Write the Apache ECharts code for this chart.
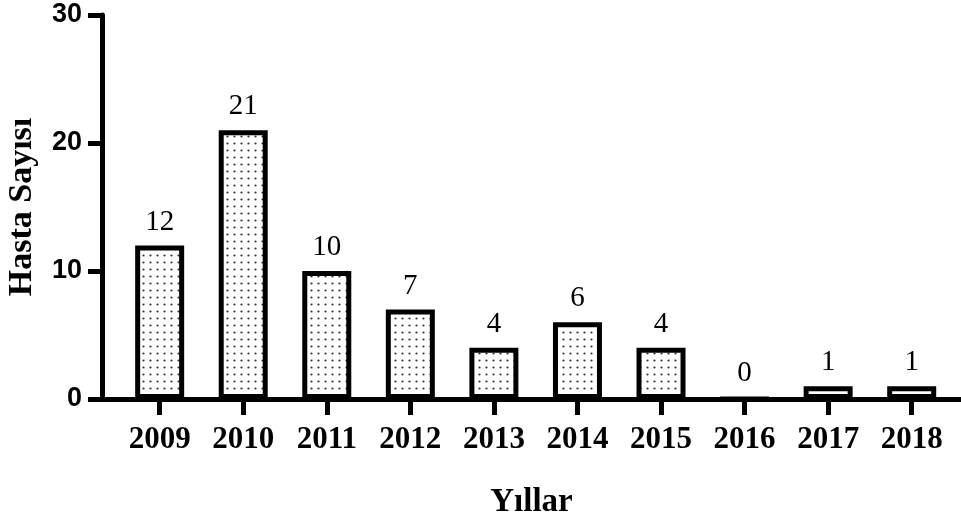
<!DOCTYPE html>
<html>
<head>
<meta charset="utf-8">
<script src="https://cdn.jsdelivr.net/npm/echarts@6/dist/echarts.min.js"></script>
<style>
html,body{margin:0;padding:0;background:#fff;}
#main{width:961px;height:517px;}
</style>
</head>
<body>
<div id="main"></div>
<script>
// Data
var years = [2009, 2010, 2011, 2012, 2013, 2014, 2015, 2016, 2017, 2018];
var patients = [12, 21, 10, 7, 4, 6, 4, 0, 1, 1];
var yTicks = [0, 10, 20, 30];
var xTitle = 'Yıllar';
var yTitle = 'Hasta Sayısı';

// dotted fill pattern
var pc = document.createElement('canvas');
pc.width = 7; pc.height = 7;
var pctx = pc.getContext('2d');
pctx.fillStyle = '#ffffff';
pctx.fillRect(0, 0, 7, 7);
pctx.fillStyle = '#333333';
pctx.beginPath();
pctx.arc(3.5, 3.5, 1.1, 0, Math.PI * 2);
pctx.fill();

var serif = '"Liberation Serif", "Times New Roman", serif';
var sans = '"Liberation Sans", Arial, sans-serif';

var chart = echarts.init(document.getElementById('main'));
chart.setOption({
  animation: false,
  backgroundColor: '#ffffff',
  grid: { left: 102, right: 0, top: 15, bottom: 118, containLabel: false, outerBoundsMode: 'none' },
  xAxis: {
    type: 'value',
    min: 2008.31,
    max: 2018.59,
    name: xTitle,
    nameLocation: 'middle',
    nameGap: 87,
    nameTextStyle: { fontFamily: serif, fontWeight: 'bold', fontSize: 33, color: '#000' },
    axisLine: { show: true, lineStyle: { color: '#000', width: 5 } },
    axisTick: { show: true, customValues: years, length: 16, lineStyle: { color: '#000', width: 5 } },
    axisLabel: { customValues: years, margin: 25, fontFamily: serif, fontWeight: 'bold', fontSize: 31, color: '#000',
      formatter: function (v) { return String(v); } },
    splitLine: { show: false }
  },
  yAxis: {
    type: 'value',
    min: 0,
    max: 30,
    interval: 10,
    name: yTitle,
    nameLocation: 'middle',
    nameGap: 63,
    nameTextStyle: { fontFamily: serif, fontWeight: 'bold', fontSize: 34, color: '#000' },
    axisLine: { show: true, lineStyle: { color: '#000', width: 5 } },
    axisTick: { show: true, length: 14, lineStyle: { color: '#000', width: 5 } },
    axisLabel: { margin: 20, fontFamily: sans, fontWeight: 'bold', fontSize: 27, color: '#000' },
    splitLine: { show: false }
  },
  series: [{
    type: 'bar',
    barWidth: 49,
    data: years.map(function (y, i) { return [y, patients[i]]; }),
    itemStyle: {
      color: { image: pc, repeat: 'repeat' },
      borderColor: '#000',
      borderWidth: 5
    },
    label: {
      show: true,
      position: 'top',
      distance: 9,
      fontFamily: serif,
      fontSize: 29,
      color: '#000',
      formatter: function (p) { return String(p.value[1]); }
    }
  }]
});
</script>
</body>
</html>
